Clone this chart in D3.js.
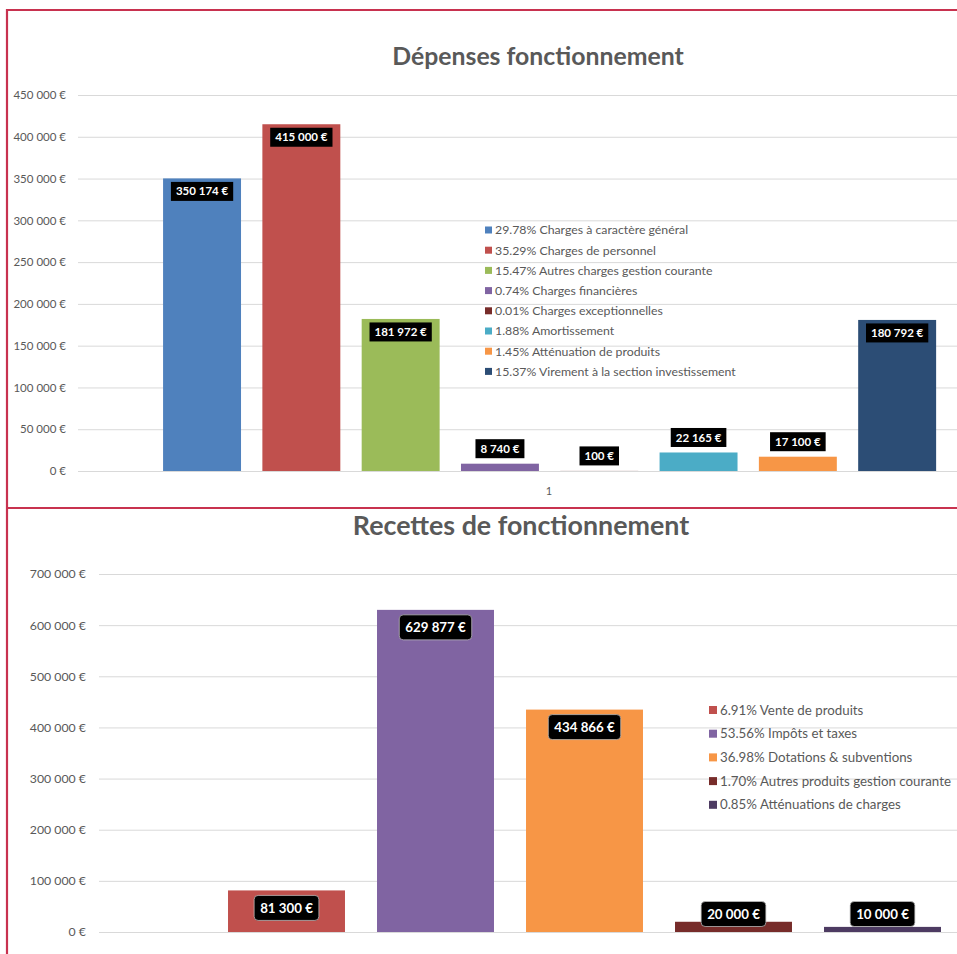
<!DOCTYPE html>
<html>
<head>
<meta charset="utf-8">
<script src="https://cdn.jsdelivr.net/npm/d3@7"></script>
<style>
  html, body { margin: 0; padding: 0; background: #fff; overflow: hidden; }
  svg { display: block; }
  text { font-family: Lato, "Open Sans", sans-serif; }
</style>
</head>
<body>
<svg id="chart" width="957" height="954"></svg>
<script>
// ---------- Data ----------
const depTitle = "Dépenses fonctionnement";
const depCategories = [
  "29.78% Charges à caractère général",
  "35.29% Charges de personnel",
  "15.47% Autres charges gestion courante",
  "0.74% Charges financières",
  "0.01% Charges exceptionnelles",
  "1.88% Amortissement",
  "1.45% Atténuation de produits",
  "15.37% Virement à la section investissement"
];
const depValues = [350174, 415000, 181972, 8740, 100, 22165, 17100, 180792];
const depColors = ["#4f81bd", "#c0504d", "#9bbb59", "#8064a2", "#772c2a", "#4bacc6", "#f79646", "#2c4d75"];
const depTicks = [0, 50000, 100000, 150000, 200000, 250000, 300000, 350000, 400000, 450000];
const depCategoryLabel = "1";

const recTitle = "Recettes de fonctionnement";
const recCategories = [
  "6.91% Vente de produits",
  "53.56% Impôts et taxes",
  "36.98% Dotations & subventions",
  "1.70% Autres produits gestion courante",
  "0.85% Atténuations de charges"
];
const recValues = [81300, 629877, 434866, 20000, 10000];
const recColors = ["#c0504d", "#8064a2", "#f79646", "#772c2a", "#4d3b62"];
const recTicks = [0, 100000, 200000, 300000, 400000, 500000, 600000, 700000];

// ---------- Helpers ----------
const grp = d3.format(",d");
const euro = v => grp(v).replace(/,/g, " ") + " €";

const svg = d3.select("#chart");
const textGray = "#595959";
const gridColor = "#d9d9d9";
const borderColor = "#c8324f";

// ---------- Panel borders (no right edge) ----------
const border = svg.append("g").attr("stroke", borderColor).attr("stroke-width", 2.2);
border.append("line").attr("x1", 7).attr("x2", 957).attr("y1", 10).attr("y2", 10);
border.append("line").attr("x1", 7).attr("x2", 957).attr("y1", 508).attr("y2", 508);
border.append("line").attr("x1", 7).attr("x2", 7).attr("y1", 9).attr("y2", 954);

// ================= TOP CHART =================
(function () {
  const y = d3.scaleLinear().domain([0, 450000]).range([471, 95]);
  const x = d3.scaleBand().domain(depCategories).range([152.4, 946.8])
    .paddingInner(0.215).paddingOuter(0.1075);
  const g = svg.append("g");

  g.append("text").attr("x", 538).attr("y", 65).attr("text-anchor", "middle")
    .attr("font-size", 24.8).attr("font-weight", 700).attr("fill", textGray).text(depTitle);

  const axis = d3.axisLeft(y).tickValues(depTicks).tickFormat(euro)
    .tickSize(-(957 - 78)).tickPadding(12);
  const ag = g.append("g").attr("transform", "translate(78,0)").call(axis);
  ag.select(".domain").remove();
  ag.selectAll(".tick line").attr("stroke", gridColor).attr("stroke-width", 1);
  ag.selectAll(".tick text").attr("fill", textGray).attr("font-size", 11.5)
    .attr("font-family", "Lato, sans-serif");

  g.append("text").attr("x", 549).attr("y", 495).attr("text-anchor", "middle")
    .attr("font-size", 11).attr("fill", textGray).text(depCategoryLabel);

  g.selectAll("rect.bar").data(depValues).join("rect").attr("class", "bar")
    .attr("x", (d, i) => x(depCategories[i])).attr("width", x.bandwidth())
    .attr("y", d => y(d)).attr("height", d => y(0) - y(d))
    .attr("fill", (d, i) => depColors[i]);

  const lab = g.selectAll("g.lab").data(depValues).join("g").attr("class", "lab")
    .attr("transform", (d, i) => {
      const top = y(d);
      const cy = (y(0) - top) > 40 ? top + 13 : top - 15;
      return `translate(${x(depCategories[i]) + x.bandwidth() / 2},${cy})`;
    });
  lab.each(function (d) {
    const s = d3.select(this);
    const t = s.append("text").attr("text-anchor", "middle").attr("dy", "0.35em")
      .attr("font-size", 11.5).attr("font-weight", 700).attr("fill", "#fff").text(euro(d));
    const w = t.node().getComputedTextLength() + 10;
    s.insert("rect", "text").attr("x", -w / 2).attr("y", -9.5).attr("width", w).attr("height", 19)
      .attr("fill", "#000");
  });

  const leg = g.selectAll("g.leg").data(depCategories).join("g").attr("class", "leg")
    .attr("transform", (d, i) => `translate(485,${230 + i * 20.2})`);
  leg.append("rect").attr("x", 0).attr("y", -3.5).attr("width", 7).attr("height", 7)
    .attr("fill", (d, i) => depColors[i]);
  leg.append("text").attr("x", 10).attr("dy", "0.35em").attr("font-size", 12.3)
    .attr("fill", textGray).text(d => d);
})();

// ================= BOTTOM CHART =================
(function () {
  const y = d3.scaleLinear().domain([0, 700000]).range([932, 574]);
  const x = d3.scaleBand().domain(recCategories).range([212, 957])
    .paddingInner(0.215).paddingOuter(0.1075);
  const g = svg.append("g");

  g.append("text").attr("x", 521).attr("y", 535).attr("text-anchor", "middle")
    .attr("font-size", 26.8).attr("font-weight", 700).attr("fill", textGray).text(recTitle);

  const axis = d3.axisLeft(y).tickValues(recTicks).tickFormat(euro)
    .tickSize(-(957 - 99)).tickPadding(13);
  const ag = g.append("g").attr("transform", "translate(99,0)").call(axis);
  ag.select(".domain").remove();
  ag.selectAll(".tick line").attr("stroke", gridColor).attr("stroke-width", 1);
  ag.selectAll(".tick text").attr("fill", textGray).attr("font-size", 12.3)
    .attr("font-family", "Lato, sans-serif");

  g.selectAll("rect.bar").data(recValues).join("rect").attr("class", "bar")
    .attr("x", (d, i) => x(recCategories[i])).attr("width", x.bandwidth())
    .attr("y", d => y(d)).attr("height", d => y(0) - y(d))
    .attr("fill", (d, i) => recColors[i]);

  const lab = g.selectAll("g.lab").data(recValues).join("g").attr("class", "lab")
    .attr("transform", (d, i) => {
      const cy = Math.min(y(d) + 17.5, 914);
      return `translate(${x(recCategories[i]) + x.bandwidth() / 2},${cy})`;
    });
  lab.each(function (d) {
    const s = d3.select(this);
    const t = s.append("text").attr("text-anchor", "middle").attr("dy", "0.35em")
      .attr("font-size", 13.3).attr("font-weight", 700).attr("fill", "#fff").text(euro(d));
    const w = t.node().getComputedTextLength() + 12;
    s.insert("rect", "text").attr("x", -w / 2).attr("y", -12.5).attr("width", w).attr("height", 25)
      .attr("rx", 4).attr("fill", "#000").attr("stroke", "#bfbfbf").attr("stroke-width", 0.75);
  });

  const leg = g.selectAll("g.leg").data(recCategories).join("g").attr("class", "leg")
    .attr("transform", (d, i) => `translate(709,${710 + i * 23.7})`);
  leg.append("rect").attr("x", 0).attr("y", -4).attr("width", 8).attr("height", 8)
    .attr("fill", (d, i) => recColors[i]);
  leg.append("text").attr("x", 11).attr("dy", "0.35em").attr("font-size", 13.3)
    .attr("fill", textGray).text(d => d);
})();
</script>
</body>
</html>
